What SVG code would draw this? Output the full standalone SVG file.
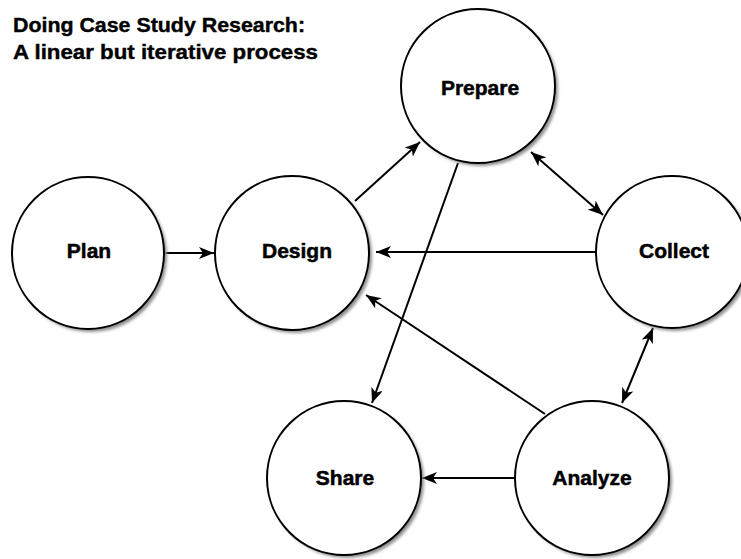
<svg xmlns="http://www.w3.org/2000/svg" width="741" height="559" viewBox="0 0 741 559">
<style>
.node circle.body{fill:#fff;stroke:#000;stroke-width:2}
.node circle.shadow{fill:#8f8f8f;filter:url(#blur)}
.node text{font-family:"Liberation Sans",Arial,sans-serif;font-weight:bold;font-size:21px;text-anchor:middle;fill:#000;stroke:#000;stroke-width:0.5}
.title{font-family:"Liberation Sans",Arial,sans-serif;font-weight:bold;font-size:20.5px;fill:#000;stroke:#000;stroke-width:0.4}
#connectors line{stroke:#000;stroke-width:2;fill:none}
</style>
<defs>
<filter id="blur" x="-20%" y="-20%" width="140%" height="140%"><feGaussianBlur stdDeviation="1.5"/></filter>
<marker id="ah" markerUnits="userSpaceOnUse" markerWidth="16" markerHeight="12" refX="15" refY="6" orient="auto-start-reverse" viewBox="0 0 16 12">
<path d="M0,0 L15,6 L0,12 L4,6 Z" fill="#000"/>
</marker>
</defs>
<rect width="741" height="559" fill="#fff"/>
<text class="title" x="13" y="32" textLength="292" lengthAdjust="spacingAndGlyphs">Doing Case Study Research:</text>
<text class="title" x="13" y="59" textLength="305" lengthAdjust="spacingAndGlyphs">A linear but iterative process</text>
<g id="connectors">
<line x1="164" y1="253" x2="214" y2="253" marker-end="url(#ah)"/>
<line x1="355" y1="201" x2="420" y2="142" marker-end="url(#ah)"/>
<line x1="458" y1="163" x2="372" y2="403" marker-end="url(#ah)"/>
<line x1="531" y1="152" x2="603" y2="215" marker-start="url(#ah)" marker-end="url(#ah)"/>
<line x1="596" y1="252" x2="376" y2="252" marker-end="url(#ah)"/>
<line x1="545" y1="414" x2="366" y2="295" marker-end="url(#ah)"/>
<line x1="653" y1="328" x2="622" y2="403" marker-start="url(#ah)" marker-end="url(#ah)"/>
<line x1="515" y1="478" x2="422" y2="478" marker-end="url(#ah)"/>
</g>
<g id="plan" class="node"><circle class="shadow" cx="91" cy="256" r="76"/><circle class="body" cx="88" cy="253" r="76"/><text x="89" y="258">Plan</text></g>
<g id="design" class="node"><circle class="shadow" cx="295" cy="256" r="77"/><circle class="body" cx="292" cy="253" r="77"/><text x="297" y="258">Design</text></g>
<g id="prepare" class="node"><circle class="shadow" cx="481" cy="89" r="77"/><circle class="body" cx="478" cy="86" r="77"/><text x="480" y="95">Prepare</text></g>
<g id="collect" class="node"><circle class="shadow" cx="675" cy="255" r="76"/><circle class="body" cx="672" cy="252" r="76"/><text x="674" y="258">Collect</text></g>
<g id="share" class="node"><circle class="shadow" cx="347" cy="481" r="77"/><circle class="body" cx="344" cy="478" r="77"/><text x="345" y="485">Share</text></g>
<g id="analyze" class="node"><circle class="shadow" cx="595" cy="481" r="77"/><circle class="body" cx="592" cy="478" r="77"/><text x="592" y="485">Analyze</text></g>
</svg>
